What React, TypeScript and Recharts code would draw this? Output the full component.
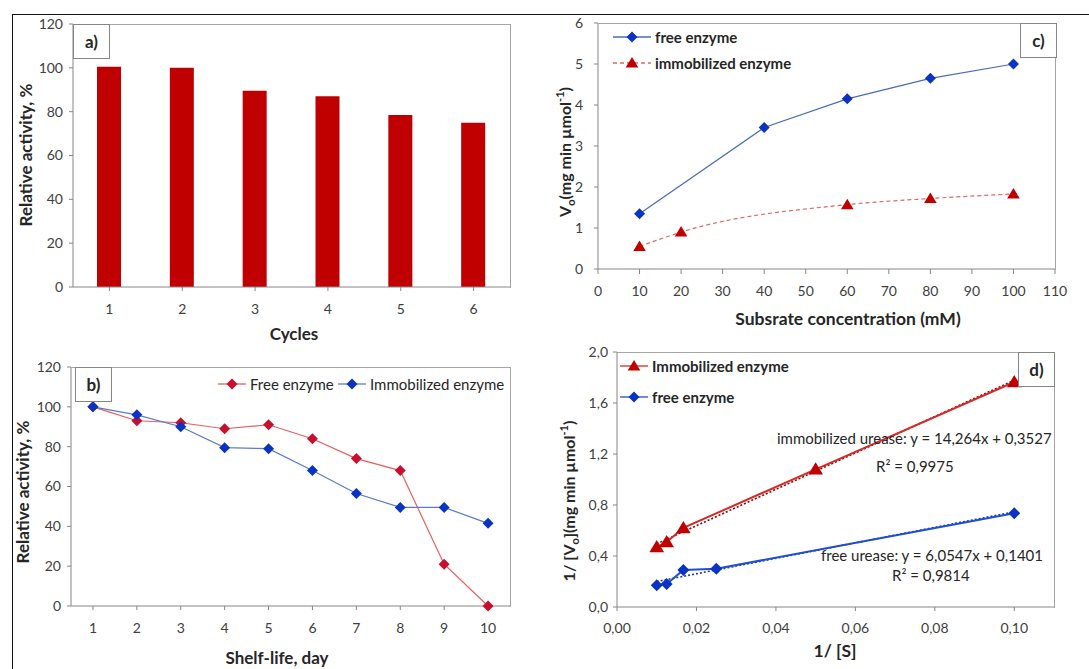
import React from "react";
import { BarChart, Bar, LineChart, Line, XAxis, YAxis } from "recharts";

// a) reuse cycles
const cycles = ["1", "2", "3", "4", "5", "6"];
const cycleActivity = [100.5, 100, 89.5, 87, 78.5, 75];

// b) shelf-life
const shelfDays = [1, 2, 3, 4, 5, 6, 7, 8, 9, 10];
const shelfFree = [100, 93, 92, 89, 91, 84, 74, 68, 21, 0];
const shelfImmob = [100, 96, 90, 79.5, 79, 68, 56.5, 49.5, 49.5, 41.5];

// c) Michaelis-Menten
const substrateFree = [10, 40, 60, 80, 100];
const vFree = [1.35, 3.45, 4.15, 4.65, 5.0];
const substrateImmob = [10, 20, 60, 80, 100];
const vImmob = [0.55, 0.9, 1.57, 1.72, 1.83];

// d) Lineweaver-Burk
const invSImmob = [0.01, 0.0125, 0.0167, 0.05, 0.1];
const invVImmob = [0.47, 0.51, 0.62, 1.08, 1.765];
const invSFree = [0.01, 0.0125, 0.0167, 0.025, 0.1];
const invVFree = [0.17, 0.18, 0.29, 0.3, 0.735];
const trendX = [0.01, 0.1];
const trendImmob = [0.495, 1.779];
const trendFree = [0.2, 0.746];

const FONT = "Lato, 'Open Sans', sans-serif";
const TICK = "#404040";
const TITLE = "#262626";
const AXIS = "#868686";
const BORDER = "#A6A6A6";

const tickStyle = { fill: TICK, fontSize: 14, fontFamily: FONT };

const barData = cycles.map((c, i) => ({ cycle: c, activity: cycleActivity[i] }));
const shelfData = shelfDays.map((d, i) => ({ day: d, free: shelfFree[i], immob: shelfImmob[i] }));
const cFree = substrateFree.map((x, i) => ({ x, y: vFree[i] }));
const cImmob = substrateImmob.map((x, i) => ({ x, y: vImmob[i] }));
const dImmob = invSImmob.map((x, i) => ({ x, y: invVImmob[i] }));
const dFree = invSFree.map((x, i) => ({ x, y: invVFree[i] }));
const dTrendImmob = trendX.map((x, i) => ({ x, y: trendImmob[i] }));
const dTrendFree = trendX.map((x, i) => ({ x, y: trendFree[i] }));

const diamond = (fill: string, r = 5.5) => (p: any) => {
  const { cx, cy, index } = p;
  if (cx == null || cy == null) return <g key={index} />;
  return (
    <polygon
      key={index}
      points={`${cx},${cy - r} ${cx + r},${cy} ${cx},${cy + r} ${cx - r},${cy}`}
      fill={fill}
    />
  );
};

const triangle = (fill: string, r = 6) => (p: any) => {
  const { cx, cy, index } = p;
  if (cx == null || cy == null) return <g key={index} />;
  return (
    <polygon
      key={index}
      points={`${cx},${cy - r} ${cx + r * 1.05},${cy + r * 0.75} ${cx - r * 1.05},${cy + r * 0.75}`}
      fill={fill}
    />
  );
};

function Frame({ x, y, w, h }: { x: number; y: number; w: number; h: number }) {
  return (
    <div
      style={{
        position: "absolute",
        left: x,
        top: y,
        width: w,
        height: h,
        borderTop: `1px solid ${BORDER}`,
        borderRight: `1px solid ${BORDER}`,
        boxSizing: "border-box",
        pointerEvents: "none",
      }}
    />
  );
}

function Tag({ x, y, text }: { x: number; y: number; text: string }) {
  return (
    <div
      style={{
        position: "absolute",
        left: x,
        top: y,
        width: 37,
        height: 35,
        border: `1px solid ${AXIS}`,
        background: "#fff",
        boxSizing: "border-box",
        fontFamily: FONT,
        fontWeight: 700,
        fontSize: 17,
        color: TITLE,
        display: "flex",
        alignItems: "center",
        justifyContent: "center",
      }}
    >
      {text}
    </div>
  );
}

function XTitle({ x, y, size = 17, children }: any) {
  return (
    <div
      style={{
        position: "absolute",
        left: x,
        top: y,
        transform: "translateX(-50%)",
        whiteSpace: "nowrap",
        fontFamily: FONT,
        fontWeight: 700,
        fontSize: size,
        lineHeight: 1.15,
        color: TITLE,
      }}
    >
      {children}
    </div>
  );
}

function YTitle({ x, y, size = 17, children }: any) {
  return (
    <div
      style={{
        position: "absolute",
        left: x,
        top: y,
        transform: "translate(-50%, -50%) rotate(-90deg)",
        whiteSpace: "nowrap",
        fontFamily: FONT,
        fontWeight: 700,
        fontSize: size,
        color: TITLE,
      }}
    >
      {children}
    </div>
  );
}

function LegendItem({
  x,
  y,
  color,
  marker,
  markerColor,
  dash,
  len = 28,
  bold,
  label,
}: any) {
  const mid = len / 2;
  return (
    <div
      style={{
        position: "absolute",
        left: x,
        top: y - 10,
        height: 20,
        display: "flex",
        alignItems: "center",
        whiteSpace: "nowrap",
        fontFamily: FONT,
        fontSize: 15,
        fontWeight: bold ? 700 : 400,
        color: TITLE,
      }}
    >
      <svg width={len + 2} height={14} style={{ marginRight: 2 }}>
        <line x1={0} y1={7} x2={len} y2={7} stroke={color} strokeWidth={1.3} strokeDasharray={dash} />
        {marker === "diamond" ? (
          <polygon points={`${mid},1.5 ${mid + 5.5},7 ${mid},12.5 ${mid - 5.5},7`} fill={markerColor} />
        ) : (
          <polygon points={`${mid},1 ${mid + 6.3},11.5 ${mid - 6.3},11.5`} fill={markerColor} />
        )}
      </svg>
      {label}
    </div>
  );
}

function Note({ x, y, children }: any) {
  return (
    <div
      style={{
        position: "absolute",
        left: x,
        top: y,
        whiteSpace: "nowrap",
        fontFamily: FONT,
        fontSize: 15,
        color: TITLE,
      }}
    >
      {children}
    </div>
  );
}

const axisProps = {
  axisLine: { stroke: AXIS },
  tickLine: { stroke: AXIS },
  tick: tickStyle,
};

export default function App() {
  return (
    <div
      style={{
        position: "absolute",
        left: 0,
        top: 0,
        width: 1089,
        height: 669,
        background: "#fff",
        overflow: "hidden",
      }}
    >
      {/* outer frame */}
      <div style={{ position: "absolute", left: 12, top: 14, width: 1077, height: 0, borderTop: "1.5px solid #111" }} />
      <div style={{ position: "absolute", left: 12, top: 14, width: 0, height: 655, borderLeft: "1.5px solid #111" }} />

      {/* a) */}
      <div style={{ position: "absolute", left: 12, top: 14 }}>
        <BarChart width={533} height={326} data={barData} margin={{ top: 10, right: 35, left: 21, bottom: 0 }}>
          <XAxis dataKey="cycle" height={53} tickSize={4} tickMargin={13} {...axisProps} />
          <YAxis
            width={40}
            domain={[0, 120]}
            ticks={[0, 20, 40, 60, 80, 100, 120]}
            tickSize={4}
            tickMargin={6}
            {...axisProps}
          />
          <Bar dataKey="activity" fill="#C00000" barSize={24} isAnimationActive={false} />
        </BarChart>
      </div>
      <Frame x={73} y={24} w={438} h={264} />
      <Tag x={73} y={24} text="a)" />
      <YTitle x={25} y={155}>Relative activity, %</YTitle>
      <XTitle x={294} y={324}>Cycles</XTitle>

      {/* b) */}
      <div style={{ position: "absolute", left: 12, top: 340 }}>
        <LineChart width={533} height={329} data={shelfData} margin={{ top: 27, right: 35, left: 19, bottom: 0 }}>
          <XAxis
            dataKey="day"
            type="number"
            domain={[0.5, 10.5]}
            ticks={shelfDays}
            height={63}
            tickSize={4}
            tickMargin={13}
            {...axisProps}
          />
          <YAxis
            width={40}
            domain={[0, 120]}
            ticks={[0, 20, 40, 60, 80, 100, 120]}
            tickSize={4}
            tickMargin={6}
            {...axisProps}
          />
          <Line
            dataKey="free"
            stroke="#E26060"
            strokeWidth={1.2}
            dot={diamond("#C8102E")}
            isAnimationActive={false}
          />
          <Line
            dataKey="immob"
            stroke="#5B7BC8"
            strokeWidth={1.2}
            dot={diamond("#0A33C4")}
            isAnimationActive={false}
          />
        </LineChart>
      </div>
      <Frame x={71} y={367} w={440} h={240} />
      <Tag x={75} y={367} text="b)" />
      <YTitle x={22} y={492}>Relative activity, %</YTitle>
      <XTitle x={277} y={648}>Shelf-life, day</XTitle>
      <LegendItem x={218} y={384} color="#E26060" marker="diamond" markerColor="#C8102E" label="Free enzyme" />
      <LegendItem x={338} y={384} color="#5B7BC8" marker="diamond" markerColor="#0A33C4" label="Immobilized enzyme" />

      {/* c) */}
      <div style={{ position: "absolute", left: 545, top: 14 }}>
        <LineChart width={544} height={326} margin={{ top: 9, right: 34, left: 23, bottom: 0 }}>
          <XAxis
            dataKey="x"
            type="number"
            domain={[0, 110]}
            ticks={[0, 10, 20, 30, 40, 50, 60, 70, 80, 90, 100, 110]}
            height={71}
            tickSize={5}
            tickMargin={12}
            allowDuplicatedCategory={false}
            {...axisProps}
          />
          <YAxis
            width={30}
            domain={[0, 6]}
            ticks={[0, 1, 2, 3, 4, 5, 6]}
            tickSize={4}
            tickMargin={11}
            {...axisProps}
          />
          <Line
            data={cFree}
            dataKey="y"
            stroke="#4A6BB5"
            strokeWidth={1.2}
            dot={diamond("#0A33C4", 5.5)}
            isAnimationActive={false}
          />
          <Line
            data={cImmob}
            dataKey="y"
            type="monotone"
            stroke="#E06666"
            strokeWidth={1.2}
            strokeDasharray="4 3"
            dot={triangle("#C00000", 6)}
            isAnimationActive={false}
          />
        </LineChart>
      </div>
      <Frame x={598} y={23} w={458} h={247} />
      <Tag x={1020} y={23} text="c)" />
      <YTitle x={565} y={152} size={16}>
        V<sub style={{ fontSize: 11 }}>o</sub>(mg min µmol<sup style={{ fontSize: 11 }}>-1</sup>)
      </YTitle>
      <XTitle x={848} y={309} size={17.5}>Subsrate concentration (mM)</XTitle>
      <LegendItem x={613} y={37} len={38} color="#4A6BB5" marker="diamond" markerColor="#0A33C4" bold label="free enzyme" />
      <LegendItem
        x={613}
        y={63}
        len={38}
        color="#E06666"
        dash="4 3"
        marker="triangle"
        markerColor="#C00000"
        bold
        label="immobilized enzyme"
      />

      {/* d) */}
      <div style={{ position: "absolute", left: 545, top: 340 }}>
        <LineChart width={544} height={329} margin={{ top: 12, right: 35, left: 32, bottom: 0 }}>
          <XAxis
            dataKey="x"
            type="number"
            domain={[0, 0.11]}
            ticks={[0, 0.02, 0.04, 0.06, 0.08, 0.1]}
            tickFormatter={(v: number) => v.toFixed(2).replace(".", ",")}
            height={62}
            tickSize={4}
            tickMargin={12}
            allowDuplicatedCategory={false}
            {...axisProps}
          />
          <YAxis
            width={40}
            domain={[0, 2]}
            ticks={[0, 0.4, 0.8, 1.2, 1.6, 2.0]}
            tickFormatter={(v: number) => v.toFixed(1).replace(".", ",")}
            tickSize={4}
            tickMargin={5}
            {...axisProps}
          />
          <Line
            data={dTrendImmob}
            dataKey="y"
            stroke="#A00000"
            strokeWidth={1.6}
            strokeDasharray="2 2"
            dot={false}
            isAnimationActive={false}
          />
          <Line
            data={dTrendFree}
            dataKey="y"
            stroke="#1F3A93"
            strokeWidth={1.6}
            strokeDasharray="2 2"
            dot={false}
            isAnimationActive={false}
          />
          <Line
            data={dImmob}
            dataKey="y"
            stroke="#D42A2A"
            strokeWidth={2}
            dot={triangle("#C00000", 7)}
            isAnimationActive={false}
          />
          <Line
            data={dFree}
            dataKey="y"
            stroke="#1F4FD0"
            strokeWidth={2}
            dot={diamond("#0A33C4", 6)}
            isAnimationActive={false}
          />
        </LineChart>
      </div>
      <Frame x={617} y={352} w={438} h={256} />
      <Tag x={1018} y={352} text="d)" />
      <YTitle x={569} y={501} size={16}>
        1/ [V<sub style={{ fontSize: 11 }}>o</sub>](mg min µmol<sup style={{ fontSize: 11 }}>-1</sup>)
      </YTitle>
      <XTitle x={835} y={641} size={17.5}>1/ [S]</XTitle>
      <LegendItem x={620} y={366} color="#D42A2A" marker="triangle" markerColor="#C00000" bold label="Immobilized enzyme" />
      <LegendItem x={620} y={397} color="#1F4FD0" marker="diamond" markerColor="#0A33C4" bold label="free enzyme" />
      <Note x={777} y={429}>immobilized urease: y = 14,264x + 0,3527</Note>
      <Note x={876} y={457}>R² = 0,9975</Note>
      <Note x={821} y={546}>free urease: y = 6,0547x + 0,1401</Note>
      <Note x={892} y={566}>R² = 0,9814</Note>
    </div>
  );
}
